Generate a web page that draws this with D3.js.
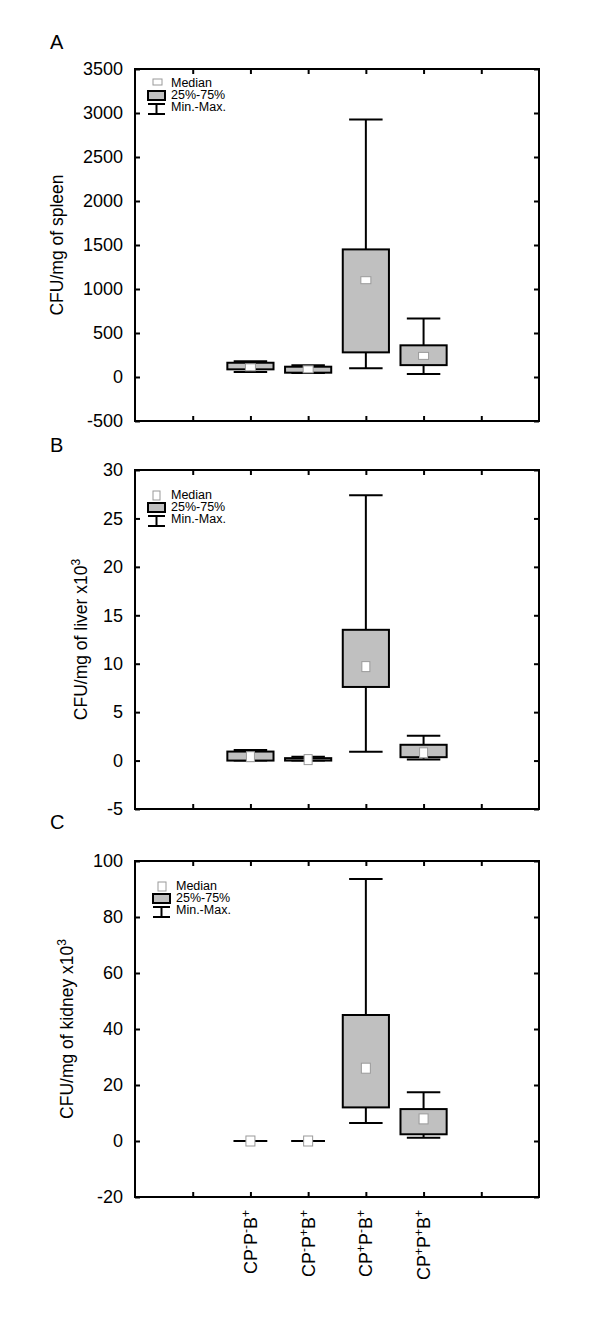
<!DOCTYPE html>
<html>
<head>
<meta charset="utf-8">
<script src="https://cdn.jsdelivr.net/npm/d3@7"></script>
<style>
  body { margin: 0; background: #fff; }
  text { font-family: "Liberation Sans", Arial, sans-serif; fill: #000; }
</style>
</head>
<body>
<div id="chart"></div>
<script>
// groups on the x axis (^ marks a superscript character)
var categories = ["CP^-P^-B^+", "CP^-P^+B^+", "CP^+P^-B^+", "CP^+P^+B^+"];

// A - spleen (CFU/mg)
var spleenMin = [57, 45, 100, 35];
var spleenQ1  = [87, 49, 280, 135];
var spleenMed = [110, 87, 1100, 240];
var spleenQ3  = [162, 117, 1450, 360];
var spleenMax = [178, 133, 2925, 665];

// B - liver (CFU/mg x10^3)
var liverMin = [0, 0, 0.9, 0.12];
var liverQ1  = [0, 0, 7.6, 0.35];
var liverMed = [0.4, 0.1, 9.7, 0.8];
var liverQ3  = [0.93, 0.25, 13.5, 1.63];
var liverMax = [1.1, 0.4, 27.4, 2.55];

// C - kidney (CFU/mg x10^3)
var kidneyMin = [0, 0, 6.4, 1.2];
var kidneyQ1  = [0, 0, 12, 2.4];
var kidneyMed = [0, 0, 26, 7.9];
var kidneyQ3  = [0, 0, 45, 11.4];
var kidneyMax = [0, 0, 93.6, 17.4];

var spleenTicks = [-500, 0, 500, 1000, 1500, 2000, 2500, 3000, 3500];
var liverTicks = [-5, 0, 5, 10, 15, 20, 25, 30];
var kidneyTicks = [-20, 0, 20, 40, 60, 80, 100];

var panels = [
  { letter: "A", label: "CFU/mg of spleen", top: 69, bottom: 421, ticks: spleenTicks,
    min: spleenMin, q1: spleenQ1, med: spleenMed, q3: spleenQ3, max: spleenMax,
    labelX: 63, letterY: 49, legX: 148, legY: 79, medW: 10, medH: 7 },
  { letter: "B", label: "CFU/mg of liver x10^3", top: 470, bottom: 809, ticks: liverTicks,
    min: liverMin, q1: liverQ1, med: liverMed, q3: liverQ3, max: liverMax,
    labelX: 87, letterY: 452, legX: 148, legY: 491, medW: 8, medH: 10 },
  { letter: "C", label: "CFU/mg of kidney x10^3", top: 861, bottom: 1197, ticks: kidneyTicks,
    min: kidneyMin, q1: kidneyQ1, med: kidneyMed, q3: kidneyQ3, max: kidneyMax,
    labelX: 73, letterY: 829, legX: 153, legY: 882, medW: 9, medH: 10 }
];

var W = 600, H = 1317;
var left = 135, right = 539;
var boxFill = "#c0c0c0", medStroke = "#9a9a9a";

var svg = d3.select("#chart").append("svg")
  .attr("width", W)
  .attr("height", H);

var x = d3.scaleLinear().domain([0, 7]).range([left, right]);
var xTicks = [1, 2, 3, 4, 5, 6];

// write text with ^ superscripts as tspans
function richText(sel, str, supSize) {
  var parts = [], i = 0;
  while (i < str.length) {
    if (str[i] === "^") { parts.push({ t: str[i + 1], sup: true }); i += 2; }
    else {
      var j = str.indexOf("^", i);
      if (j < 0) j = str.length;
      parts.push({ t: str.slice(i, j), sup: false });
      i = j;
    }
  }
  var shifted = false;
  parts.forEach(function(p) {
    var ts = sel.append("tspan").text(p.t);
    if (p.sup && !shifted) { ts.attr("dy", -7).attr("font-size", supSize); shifted = true; }
    else if (p.sup) { ts.attr("font-size", supSize); }
    else if (shifted) { ts.attr("dy", 7); shifted = false; }
  });
}

panels.forEach(function(p, pi) {
  var y = d3.scaleLinear()
    .domain([p.ticks[0], p.ticks[p.ticks.length - 1]])
    .range([p.bottom, p.top]);
  var g = svg.append("g");

  // axes, ticks pointing inward
  var yl = g.append("g").attr("transform", "translate(" + left + ",0)")
    .call(d3.axisLeft(y).tickValues(p.ticks).tickSizeInner(-5).tickSizeOuter(0).tickPadding(12));
  yl.selectAll("text").attr("font-size", "18px").attr("font-family", "Liberation Sans, Arial, sans-serif")
    .text(function(d) { return d < 0 ? "-" + Math.abs(d) : d; });
  g.append("g").attr("transform", "translate(" + right + ",0)")
    .call(d3.axisRight(y).tickValues(p.ticks).tickSizeInner(-5).tickSizeOuter(0).tickFormat(""));
  g.append("g").attr("transform", "translate(0," + p.top + ")")
    .call(d3.axisTop(x).tickValues(xTicks).tickSizeInner(-5).tickSizeOuter(0).tickFormat(""));
  g.append("g").attr("transform", "translate(0," + p.bottom + ")")
    .call(d3.axisBottom(x).tickValues(xTicks).tickSizeInner(-5).tickSizeOuter(0).tickFormat(""));
  g.selectAll(".domain").remove();
  g.selectAll(".tick line").attr("stroke", "#000").attr("stroke-width", 2);

  g.append("rect")
    .attr("x", left).attr("y", p.top)
    .attr("width", right - left).attr("height", p.bottom - p.top)
    .attr("fill", "none").attr("stroke", "#000").attr("stroke-width", 2);

  // panel letter
  g.append("text").attr("x", 50).attr("y", p.letterY)
    .attr("font-size", "20px").text(p.letter);

  // y label
  var cy = (p.top + p.bottom) / 2;
  var lab = g.append("text")
    .attr("transform", "translate(" + p.labelX + "," + cy + ") rotate(-90)")
    .attr("text-anchor", "middle")
    .attr("font-size", "17.5px");
  richText(lab, p.label, "12px");

  // boxes
  var data = categories.map(function(c, i) {
    return { pos: i + 2, min: p.min[i], q1: p.q1[i], med: p.med[i], q3: p.q3[i], max: p.max[i] };
  });
  var items = g.append("g").selectAll("g").data(data).enter().append("g");

  items.append("line")
    .attr("x1", function(d) { return x(d.pos); })
    .attr("x2", function(d) { return x(d.pos); })
    .attr("y1", function(d) { return y(d.min); })
    .attr("y2", function(d) { return y(d.max); })
    .attr("stroke", "#000").attr("stroke-width", 2);
  ["min", "max"].forEach(function(k) {
    items.append("line")
      .attr("x1", function(d) { return x(d.pos - 0.29); })
      .attr("x2", function(d) { return x(d.pos + 0.29); })
      .attr("y1", function(d) { return y(d[k]); })
      .attr("y2", function(d) { return y(d[k]); })
      .attr("stroke", "#000").attr("stroke-width", 2);
  });
  items.append("rect")
    .attr("x", function(d) { return x(d.pos - 0.4); })
    .attr("width", x(0.8) - x(0))
    .attr("y", function(d) { return y(d.q3); })
    .attr("height", function(d) { return y(d.q1) - y(d.q3); })
    .attr("fill", boxFill).attr("stroke", "#000").attr("stroke-width", 2);
  items.append("rect")
    .attr("x", function(d) { return x(d.pos) - p.medW / 2; })
    .attr("y", function(d) { return y(d.med) - p.medH / 2; })
    .attr("width", p.medW).attr("height", p.medH)
    .attr("fill", "#fff").attr("stroke", medStroke).attr("stroke-width", 1);

  // legend
  var lx = p.legX, ly = p.legY;
  var leg = g.append("g");
  leg.append("rect").attr("x", lx + 5).attr("y", ly).attr("width", p.medW - 1).attr("height", p.medH - 1)
    .attr("fill", "#fff").attr("stroke", medStroke).attr("stroke-width", 1);
  leg.append("rect").attr("x", lx).attr("y", ly + 12).attr("width", 17).attr("height", 9)
    .attr("fill", boxFill).attr("stroke", "#000").attr("stroke-width", 2);
  leg.append("line").attr("x1", lx).attr("x2", lx + 17).attr("y1", ly + 25).attr("y2", ly + 25)
    .attr("stroke", "#000").attr("stroke-width", 2);
  leg.append("line").attr("x1", lx + 8.5).attr("x2", lx + 8.5).attr("y1", ly + 25).attr("y2", ly + 35)
    .attr("stroke", "#000").attr("stroke-width", 2);
  leg.append("line").attr("x1", lx).attr("x2", lx + 17).attr("y1", ly + 35).attr("y2", ly + 35)
    .attr("stroke", "#000").attr("stroke-width", 2);
  [["Median", 8], ["25%-75%", 20], ["Min.-Max.", 32]].forEach(function(t) {
    leg.append("text").attr("x", lx + 23).attr("y", ly + t[1])
      .attr("font-size", "12.5px").text(t[0]);
  });

  // category labels under the last panel only
  if (pi === panels.length - 1) {
    categories.forEach(function(c, i) {
      var t = g.append("text")
        .attr("transform", "translate(" + (x(i + 2) + 6.5) + "," + (p.bottom + 13) + ") rotate(-90)")
        .attr("text-anchor", "end")
        .attr("font-size", "18px");
      richText(t, c, "12px");
    });
  }
});
</script>
</body>
</html>
